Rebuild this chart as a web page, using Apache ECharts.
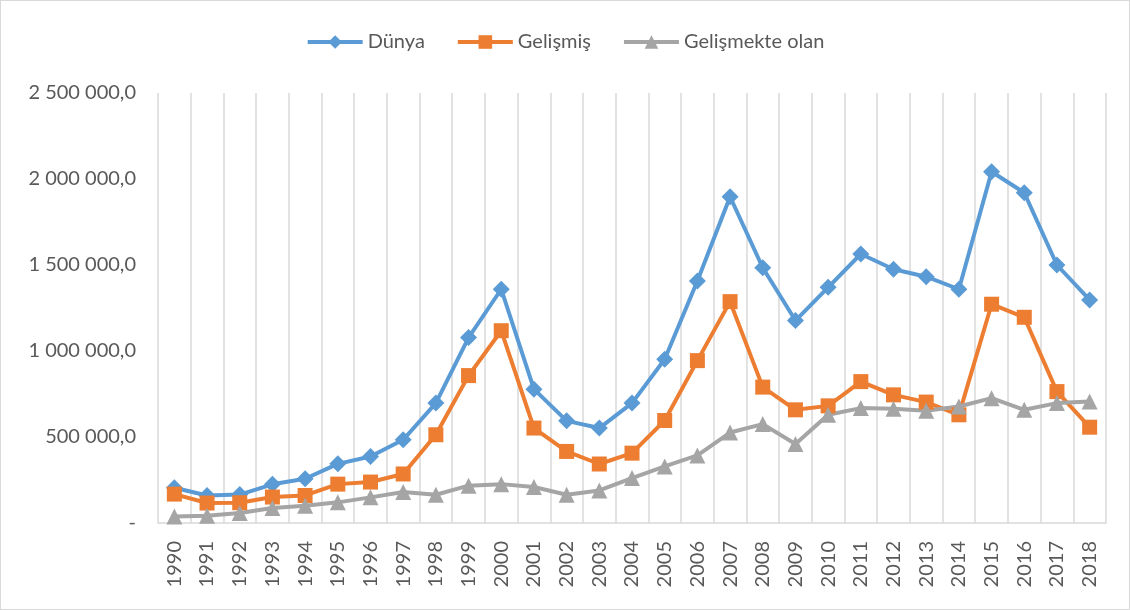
<!DOCTYPE html>
<html>
<head>
<meta charset="utf-8">
<script src="https://cdn.jsdelivr.net/npm/echarts@6/dist/echarts.min.js"></script>
<style>
html,body{margin:0;padding:0;background:#fff;}
#chart{width:1130px;height:610px;box-sizing:border-box;border:1px solid #d9d9d9;}
</style>
</head>
<body>
<div id="chart"></div>
<script>
const years = ['1990','1991','1992','1993','1994','1995','1996','1997','1998','1999','2000','2001','2002','2003','2004','2005','2006','2007','2008','2009','2010','2011','2012','2013','2014','2015','2016','2017','2018'];
const dunya = [205000,160000,165000,225000,257000,344000,387000,484000,697000,1078000,1359000,778000,594000,552000,697000,952000,1407000,1897000,1484000,1177000,1370000,1564000,1475000,1432000,1359000,2042000,1920000,1500000,1297000];
const gelismis = [168000,116000,118000,151000,160000,226000,238000,285000,513000,857000,1118000,552000,416000,343000,406000,596000,944000,1287000,790000,658000,681000,822000,745000,703000,629000,1272000,1196000,764000,557000];
const gelismekte = [38000,42000,58000,87000,100000,120000,149000,180000,164000,217000,226000,209000,164000,189000,261000,329000,393000,526000,575000,459000,629000,668000,664000,652000,677000,726000,658000,697000,706000];
const yMin = 0, yMax = 2500000, yStep = 500000;

const FONT = 'Lato';
function fmt(v){
  if (v === 0) return '-';
  return String(Math.round(v)).replace(/\B(?=(\d{3})+(?!\d))/g, ' ') + ',0';
}
const chart = echarts.init(document.getElementById('chart'), null, {renderer:'canvas'});
const mk = (name, data, color, symbol, size) => ({
  name, type:'line', data, symbol, symbolSize:size, showSymbol:true,
  lineStyle:{color, width:4}, itemStyle:{color}, emphasis:{disabled:true}
});
chart.setOption({
  animation:false,
  textStyle:{fontFamily:FONT},
  legend:{
    top:26, left:'center', itemWidth:55, itemHeight:17, itemGap:31,
    lineStyle:{width:4},
    textStyle:{fontFamily:FONT, fontSize:20, color:'#595959'},
    data:['Dünya','Gelişmiş','Gelişmekte olan']
  },
  grid:{left:157, right:23, top:92, bottom:86, containLabel:false},
  xAxis:{
    type:'category', data:years, boundaryGap:true,
    axisLine:{lineStyle:{color:'#d9d9d9', width:1.5}},
    axisTick:{show:false},
    splitLine:{show:true, lineStyle:{color:'#d9d9d9', width:1.5}},
    axisLabel:{rotate:90, interval:0, fontFamily:FONT, fontSize:20, color:'#595959', margin:18}
  },
  yAxis:{
    type:'value', min:yMin, max:yMax, interval:yStep,
    axisLine:{show:false}, axisTick:{show:false}, splitLine:{show:false},
    axisLabel:{formatter:fmt, fontFamily:FONT, fontSize:20, color:'#595959', margin:22}
  },
  series:[
    mk('Dünya', dunya, '#5B9BD5', 'diamond', 17),
    mk('Gelişmiş', gelismis, '#ED7D31', 'rect', 15),
    mk('Gelişmekte olan', gelismekte, '#A5A5A5', 'triangle', 16)
  ]
});
</script>
</body>
</html>
